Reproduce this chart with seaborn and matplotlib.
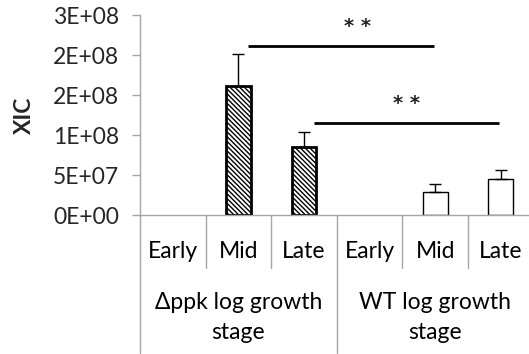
import matplotlib
matplotlib.use("Agg")
import matplotlib.pyplot as plt
import matplotlib.transforms as mtransforms
import seaborn as sns
import pandas as pd
import numpy as np

# ---- data ----
groups = ["Δppk log growth\nstage", "WT log growth\nstage"]
stages = ["Early", "Mid", "Late"]
xic_ppk = [0.0, 1.61e8, 0.85e8]
err_ppk = [0.0, 0.40e8, 0.19e8]
xic_wt = [0.0, 0.29e8, 0.45e8]
err_wt = [0.0, 0.10e8, 0.11e8]
ytick_values = [0, 5e7, 1e8, 1.5e8, 2e8, 2.5e8]
ytick_labels = ["0E+00", "5E+07", "1E+08", "2E+08", "2E+08", "3E+08"]
# significance bars: (x start, x end, y level, star x, star baseline y)
sig_lines = [(1.15, 3.98, 2.11e8, 2.81, 2.285e8),
             (2.15, 4.97, 1.15e8, 3.57, 1.325e8)]
sig_text = "* *"

sns.set_theme(style="white")
plt.rcParams["font.family"] = ["Lato", "DejaVu Sans"]
FS = 16.5

conds = [f"{g.split()[0]} {s}" for g in groups for s in stages]
df = pd.DataFrame({
    "cond": conds,
    "xic": xic_ppk + xic_wt,
    "err": err_ppk + err_wt,
    "group": [g for g in groups for _ in stages],
})

fig = plt.figure(figsize=(5.29, 3.54), dpi=100)
W, H = 529, 354
cat_w = 65.6
axw = 6 * cat_w
ax = fig.add_axes([140 / W, (354 - 215) / H, axw / W, 200 / H])

sns.barplot(data=df, x="cond", y="xic", order=conds, color="white",
            edgecolor="black", width=0.38, errorbar=None, ax=ax)

plt.rcParams["hatch.linewidth"] = 0.8
for i, p in enumerate(ax.patches):
    val = df["xic"].iloc[i]
    if val == 0:
        p.set_linewidth(0)
        continue
    p.set_facecolor("white")
    p.set_edgecolor("black")
    if i < 3:
        p.set_hatch("\\\\\\\\\\\\\\")
        p.set_linewidth(2.0)
    else:
        p.set_linewidth(1.0)

nz = df[df["xic"] > 0]
xs = np.array([conds.index(c) for c in nz["cond"]])
ax.errorbar(xs, nz["xic"], yerr=[np.zeros(len(nz)), nz["err"].to_numpy()],
            fmt="none", ecolor="black", elinewidth=1.0, capsize=4.5,
            capthick=1.0, zorder=3)

for x0, x1, yl, tx, ty in sig_lines:
    ax.plot([x0, x1], [yl, yl], color="black", lw=2.0, solid_capstyle="butt")
    ax.text(tx, ty, sig_text, ha="center", va="baseline", fontsize=14,
            fontweight="bold", color="#222222", family="DejaVu Sans")

ax.set_xlim(-0.5, 5.5)
ax.set_ylim(0, 2.5e8)
ax.set_yticks(ytick_values)
ax.set_yticklabels(ytick_labels, fontsize=FS)
ax.tick_params(axis="y", length=6, width=1, color="#A6A6A6", pad=9,
               left=True, direction="out")
ax.set_xticks([])
ax.set_xlabel("")
ax.set_ylabel("XIC", fontsize=FS, fontweight="bold")
ax.yaxis.set_label_coords(-(140 - 35) / axw, 0.5)

for s in ["top", "right"]:
    ax.spines[s].set_visible(False)
for s in ["left", "bottom"]:
    ax.spines[s].set_color("#A6A6A6")
    ax.spines[s].set_linewidth(1.0)

trans = mtransforms.blended_transform_factory(ax.transData, ax.transAxes)
gray = "#A6A6A6"
for i, c in enumerate(conds):
    ax.text(i, -0.185, stages[i % 3], transform=trans, ha="center",
            va="center", fontsize=FS, color="black")
for b in [0.5, 1.5, 3.5, 4.5]:
    ax.plot([b, b], [0, -0.265], transform=trans, color=gray, lw=1.0,
            clip_on=False)
for b in [-0.5, 2.5, 5.5]:
    ax.plot([b, b], [0, -0.69], transform=trans, color=gray, lw=1.0,
            clip_on=False)
for gi, g in enumerate(groups):
    ax.text(gi * 3 + 1, -0.5125, g, transform=trans, ha="center",
            va="center", fontsize=FS, color="black", linespacing=1.5,
            multialignment="center")

fig.savefig("out.png", dpi=100)
